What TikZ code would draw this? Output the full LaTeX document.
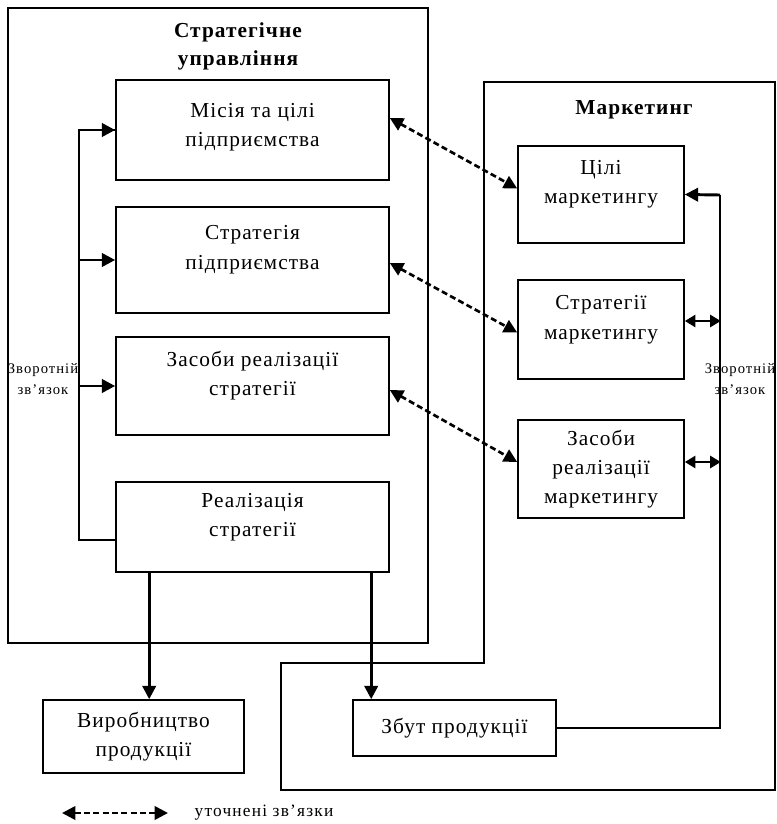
\documentclass[tikz,border=0pt]{standalone}
\usepackage{fontspec}
\setmainfont{Liberation Serif}
\usetikzlibrary{arrows.meta,calc}

\tikzset{
  blk/.style={draw,line width=1.2pt,align=center,inner sep=0pt,
    font=\fontsize{16}{22}\selectfont\addfontfeature{LetterSpace=5}},
  frame/.style={line width=1.2pt},
  fat/.style={line width=2.2pt,-{Triangle[length=10pt,width=10pt]}},
  twoway/.style={line width=2.2pt,{Triangle[length=8pt,width=9pt]}-{Triangle[length=8pt,width=9pt]}},
  refine/.style={line width=2pt,dash pattern=on 4.5pt off 2.5pt,
    {Triangle[length=10pt,width=10pt]}-{Triangle[length=10pt,width=10pt]}},
  note/.style={align=center,font=\fontsize{11}{16}\selectfont\addfontfeature{LetterSpace=7}},
  head/.style={align=center,font=\bfseries\fontsize{16}{21}\selectfont\addfontfeature{LetterSpace=5}}
}

\begin{document}
\begin{tikzpicture}[x=0.75pt,y=-0.75pt]
  \useasboundingbox (0,0) rectangle (777,824);

  % outer frames
  \draw[frame] (8,8) rectangle (428,643);
  \draw[frame] (484,82) -- (775,82) -- (775,790) -- (281,790) -- (281,663) -- (484,663) -- cycle;

  \node[head] (tstrat) at (238,46) {Стратегічне\\управління};
  \node[head] (tmark) at (634,110) {Маркетинг};

  % strategic boxes
  \node[blk,minimum width=204.75pt,minimum height=75pt,text depth=8pt] (misia) at (252.5,130) {Місія та цілі\\підприємства};
  \node[blk,minimum width=204.75pt,minimum height=79.5pt,text depth=19pt] (strat) at (252.5,260) {Стратегія\\підприємства};
  \node[blk,minimum width=204.75pt,minimum height=73.5pt,text depth=19pt] (zasoby) at (252.5,386) {Засоби реалізації\\стратегії};
  \node[blk,minimum width=204.75pt,minimum height=67.5pt,text depth=18pt] (real) at (252.5,527) {Реалізація\\стратегії};

  % marketing boxes
  \node[blk,minimum width=124.5pt,minimum height=72.75pt,text depth=19pt] (cilim) at (601,194.5) {Цілі\\маркетингу};
  \node[blk,minimum width=124.5pt,minimum height=74.25pt,text depth=18pt] (stratm) at (601,329.5) {Стратегії\\маркетингу};
  \node[blk,minimum width=124.5pt,minimum height=73.5pt] (zasobym) at (601,469) {Засоби\\реалізації\\маркетингу};

  % output boxes
  \node[blk,minimum width=150.75pt,minimum height=54.75pt] (vyrob) at (143.5,736.5) {Виробництво\\продукції};
  \node[blk,minimum width=152.25pt,minimum height=42pt] (zbut) at (454.5,728) {Збут продукції};

  % left feedback
  \coordinate (fbl) at (79,540);
  \draw[frame] ($(real.west)+(0,13)$) -- (fbl) |- (misia.west);
  \draw[fat] (fbl |- misia.west) -- (misia.west);
  \draw[fat] (fbl |- strat.west) -- (strat.west);
  \draw[fat] (fbl |- zasoby.west) -- (zasoby.west);
  \node[note] (fbltext) at (43,379) {Зворотній\\зв’язок};

  % right feedback
  \coordinate (fbr) at (720,195);
  \draw[frame] (zbut.east) -| (fbr);
  \draw[fat] (fbr) -- (cilim.east);
  \draw[twoway] ($(stratm.east)+(0,-8.5)$) -- ($(stratm.east)+(36,-8.5)$);
  \draw[twoway] ($(zasobym.east)+(0,-7)$) -- ($(zasobym.east)+(36,-7)$);
  \node[note] (fbrtext) at (740,379) {Зворотній\\зв’язок};

  % refined links
  \draw[refine] ($(misia.east)+(0,-12)$) -- ($(cilim.west)+(0,-6)$);
  \draw[refine] ($(strat.east)+(0,3)$) -- ($(stratm.west)+(0,3)$);
  \draw[refine] ($(zasoby.east)+(0,4)$) -- ($(zasobym.west)+(0,-7)$);

  % outputs
  \coordinate (o1) at ($(real.south west)+(34,0)$);
  \coordinate (o2) at ($(real.south west)+(256,0)$);
  \draw[fat] (o1) -- (o1 |- vyrob.north);
  \draw[fat] (o2) -- (o2 |- zbut.north);

  % legend
  \coordinate (leg1) at (62,813);
  \coordinate (leg2) at (168,813);
  \draw[refine] (leg1) -- (leg2);
  \node[note,anchor=west,font=\fontsize{13}{16}\selectfont\addfontfeature{LetterSpace=7}] (legtext) at (190,813) {уточнені зв’язки};
\end{tikzpicture}
\end{document}
